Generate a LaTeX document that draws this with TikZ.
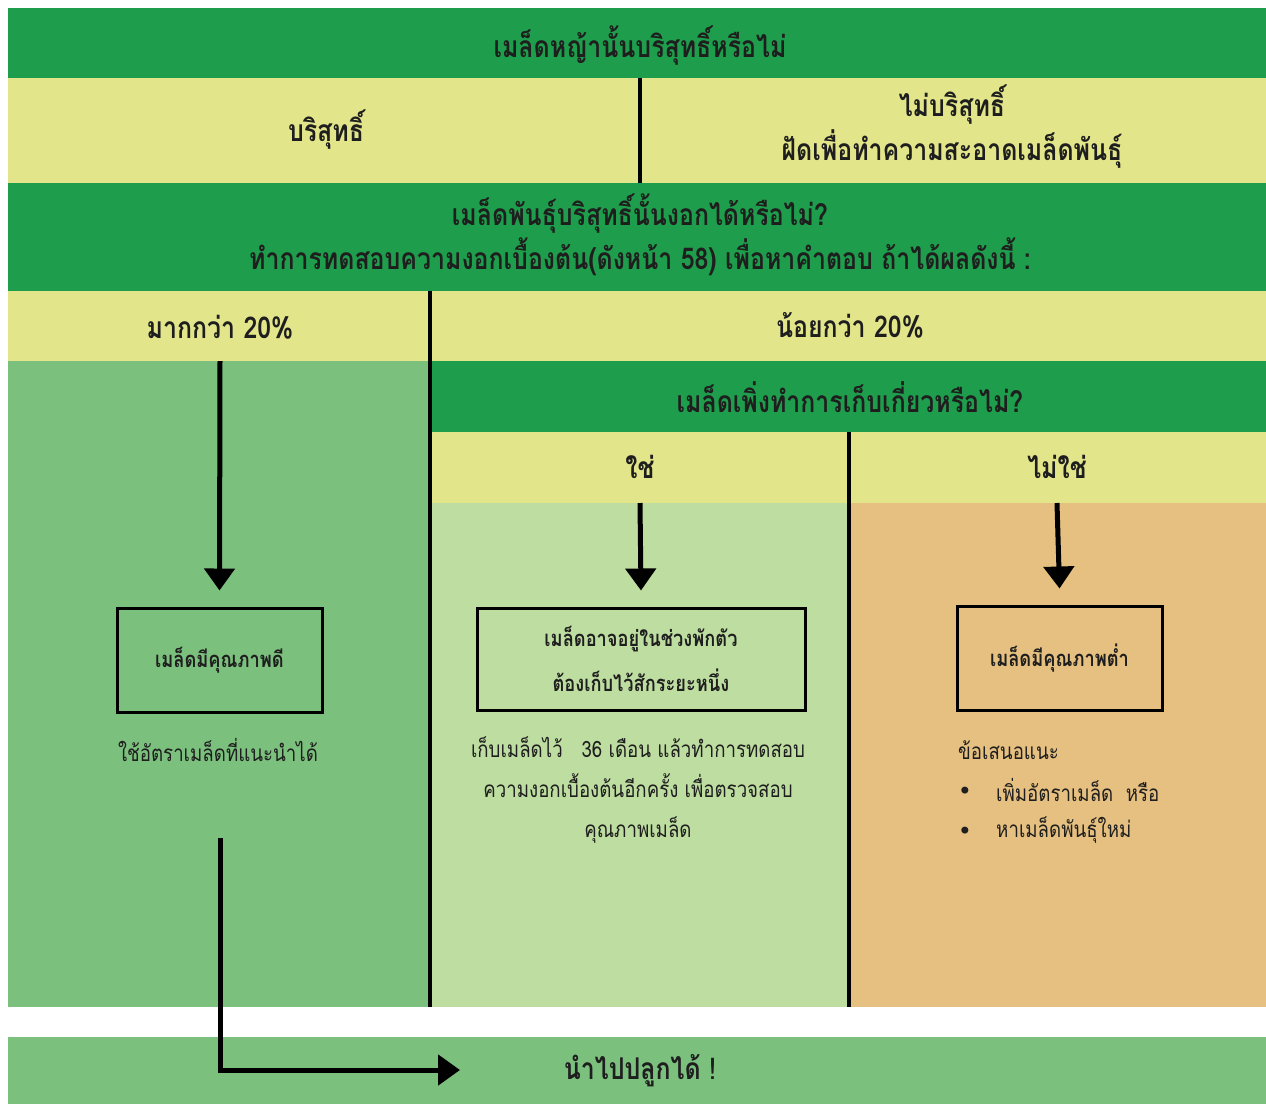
\documentclass[tikz,border=0pt]{standalone}
\usepackage{fontspec}
\newfontfamily\thaifont[Script=Thai,FakeStretch=0.83]{Loma}
\newfontfamily\bulletfont{DejaVu Sans}
\usetikzlibrary{arrows.meta}

\definecolor{bandgreen}{RGB}{30,158,76}
\definecolor{paleyellow}{RGB}{226,229,138}
\definecolor{leafgreen}{RGB}{124,192,126}
\definecolor{mintgreen}{RGB}{190,221,160}
\definecolor{wheat}{RGB}{230,192,128}
\definecolor{ink}{RGB}{30,30,30}

\tikzset{
  head/.style={text=ink, align=center, inner sep=0pt,
    font=\thaifont\bfseries\fontsize{30}{44}\selectfont},
  boxtext/.style={text=ink, align=center, inner sep=0pt, draw=black, line width=3pt,
    font=\thaifont\bfseries\fontsize{22}{45}\selectfont},
  note/.style={text=ink, align=center, inner sep=0pt,
    font=\thaifont\fontsize{22.5}{40}\selectfont},
  dot/.style={text=ink, inner sep=0pt, font=\bulletfont\fontsize{24}{24}\selectfont},
  divider/.style={line width=4pt, black},
  flow/.style={line width=5pt, black, -{Triangle[width=30pt,length=22pt]}}
}

\begin{document}
\begin{tikzpicture}[x=1pt,y=-1pt]
\useasboundingbox (0,0) rectangle (1266,1104);

% bands
\fill[bandgreen] (8,8) rectangle (1266,78);
\fill[paleyellow] (8,78) rectangle (1266,183);
\fill[bandgreen] (8,183) rectangle (1266,291);
\fill[paleyellow] (8,291) rectangle (1266,361);
\fill[leafgreen] (8,361) rectangle (430,1007);
\fill[bandgreen] (430,361) rectangle (1266,432);
\fill[paleyellow] (430,432) rectangle (1266,503);
\fill[mintgreen] (430,503) rectangle (849,1007);
\fill[wheat] (849,503) rectangle (1266,1007);
\fill[leafgreen] (8,1037) rectangle (1266,1104);

% dividers
\draw[divider] (640,78) -- (640,183);
\draw[divider] (430,291) -- (430,1007);
\draw[divider] (849,432) -- (849,1007);

% questions and answers
\node[head] (purity) at (640,46) {เมล็ดหญ้านั้นบริสุทธิ์หรือไม่};
\node[head] (pure) at (326,130) {บริสุทธิ์};
\node[head] (impure) at (952,127) {ไม่บริสุทธิ์\\ฝัดเพื่อทำความสะอาดเมล็ดพันธุ์};
\node[head] (germ) at (640,235) {เมล็ดพันธุ์บริสุทธิ์นั้นงอกได้หรือไม่?\\ทำการทดสอบความงอกเบื้องต้น(ดังหน้า 58) เพื่อหาคำตอบ ถ้าได้ผลดังนี้ :};
\node[head] (more) at (220,327) {มากกว่า 20\%};
\node[head] (less) at (850,325) {น้อยกว่า 20\%};
\node[head] (fresh) at (850,397) {เมล็ดเพิ่งทำการเก็บเกี่ยวหรือไม่?};
\node[head] (yes) at (640,467) {ใช่};
\node[head] (no) at (1057,467) {ไม่ใช่};

% result boxes
\node[boxtext, minimum width=205pt, minimum height=104pt] (goodbox) at (219.5,660) {เมล็ดมีคุณภาพดี};
\node[boxtext, minimum width=328pt, minimum height=102pt] (dormbox) at (641,659) {เมล็ดอาจอยู่ในช่วงพักตัว\\ต้องเก็บไว้สักระยะหนึ่ง};
\node[boxtext, minimum width=205pt, minimum height=104pt] (poorbox) at (1059.5,658) {เมล็ดมีคุณภาพต่ำ};

% notes
\node[note] (goodnote) at (218,750) {ใช้อัตราเมล็ดที่แนะนำได้};
\node[note] (dormnote) at (638,790) {เก็บเมล็ดไว้~~~36 เดือน แล้วทำการทดสอบ\\ความงอกเบื้องต้นอีกครั้ง เพื่อตรวจสอบ\\คุณภาพเมล็ด};
\node[note, anchor=west] (poornote) at (958,750) {ข้อเสนอแนะ};
\node[dot] (dot1) at (965,793) {•};
\node[note, anchor=west] (tip1) at (996,790) {เพิ่มอัตราเมล็ด~~หรือ};
\node[dot] (dot2) at (965,833) {•};
\node[note, anchor=west] (tip2) at (996,830) {หาเมล็ดพันธุ์ใหม่};

\node[head] (plant) at (640,1071) {นำไปปลูกได้ !};

% arrows
\coordinate (moreout) at (220,361);
\coordinate (yesout) at (640,503);
\coordinate (noout) at (1057,503);
\coordinate (plantstart) at (220,838);
\coordinate (planttip) at (460,1070);
\draw[flow] (moreout) -- ([yshift=16pt]goodbox.north);
\draw[flow] (yesout) -- ([yshift=16pt]dormbox.north);
\draw[flow] (noout) -- ([yshift=16pt]poorbox.north);
\draw[flow] (plantstart) |- (planttip);
\end{tikzpicture}
\end{document}
